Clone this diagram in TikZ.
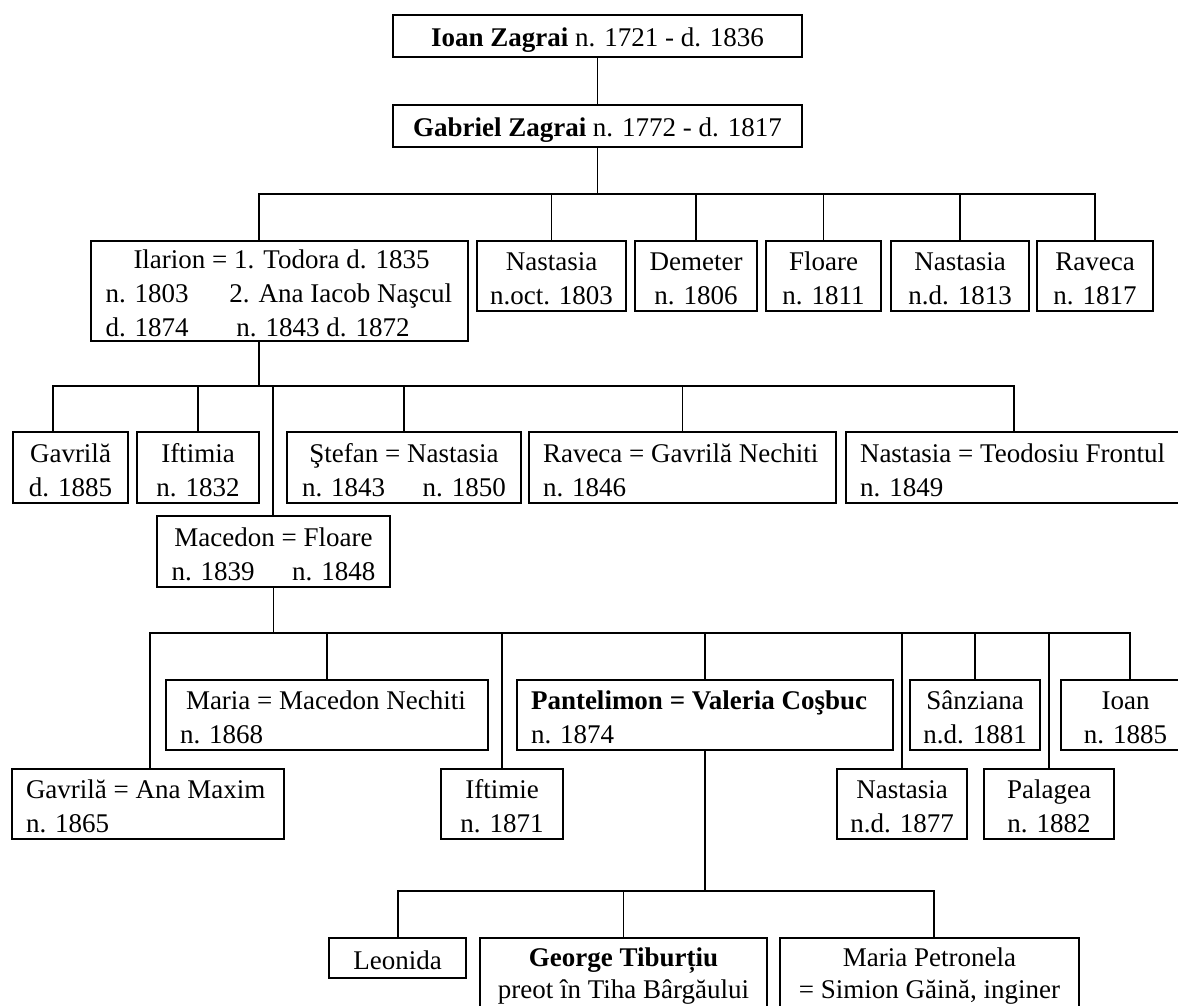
\documentclass[tikz,border=0pt]{standalone}
\usepackage{fontspec}
\setmainfont{Liberation Serif}
\newcommand\topstrut{\rule{0pt}{27pt}}
\newcommand\botstrut{\rule[-4pt]{0pt}{4pt}}
\newcommand\deepstrut{\rule[-12pt]{0pt}{12pt}}
\newcommand\famnode[7][]{\node[box,#1,minimum width={#5-#3},minimum height={#6-#4}] (#2) at ({(#3+#5)/2},{(#4+#6)/2}) {\topstrut#7\botstrut};}
\begin{document}
\begin{tikzpicture}[x=1pt,y=-1pt,
  box/.style={draw,line width=1.5pt,inner sep=0pt,align=center,font=\fontsize{27}{34}\selectfont},
  lbox/.style={align=flush left},
  tight/.style={font=\fontsize{27}{32}\selectfont},
  link/.style={line width=1.5pt}]
\useasboundingbox (0,0) rectangle (1178,1005);

% generation 1-2
\famnode{ioan}{393}{15}{802}{57}{\textbf{Ioan Zagrai} n. 1721 - d. 1836}
\famnode{gabriel}{393}{105}{802}{147}{\textbf{Gabriel Zagrai} n. 1772 - d. 1817}

% children of Gabriel
\famnode[lbox,text width=348]{ilarion}{91}{241}{468}{341}{\mbox{\hspace*{28pt}Ilarion = 1. Todora d. 1835}\\\mbox{\makebox[124pt][l]{n. 1803}2. Ana Iacob Naşcul}\\\mbox{\makebox[131pt][l]{d. 1874}n. 1843 d. 1872}}
\famnode{nast1}{477}{241}{626}{311}{Nastasia\\n.oct. 1803}
\famnode{demeter}{635}{241}{757}{311}{Demeter\\n. 1806}
\famnode{floare}{766}{241}{881}{311}{Floare\\n. 1811}
\famnode{nast2}{891}{241}{1029}{311}{Nastasia\\n.d. 1813}
\famnode{raveca1}{1037}{241}{1153}{311}{Raveca\\n. 1817}

% children of Ilarion
\famnode{gavrila1}{13}{432}{128}{503}{Gavrilă\\d. 1885}
\famnode{iftimia}{137}{432}{259}{503}{Iftimia\\n. 1832}
\famnode{stefan}{287}{432}{521}{503}{Ştefan = Nastasia\\\makebox[204pt]{n. 1843\hfill n. 1850}}
\famnode[lbox,text width=279]{raveca2}{529}{432}{836}{503}{\mbox{Raveca = Gavrilă Nechiti}\\n. 1846}
\famnode[lbox,text width=316]{nastf}{846}{432}{1190}{503}{\mbox{Nastasia = Teodosiu Frontul}\\n. 1849}
\famnode{macedon}{157}{516}{390}{587}{Macedon = Floare\\\makebox[204pt]{n. 1839\hfill n. 1848}}

% children of Macedon
\famnode[lbox,text width=244]{gavrila2}{12}{769}{284}{839}{\mbox{Gavrilă = Ana Maxim}\\n. 1865}
\famnode[lbox,text width=294]{maria}{166}{680}{488}{750}{\mbox{\hspace*{6pt}Maria = Macedon Nechiti}\\n. 1868}
\famnode{iftimie}{441}{769}{563}{839}{Iftimie\\n. 1871}
\famnode[lbox,text width=348]{pantelimon}{517}{680}{893}{750}{\mbox{\textbf{Pantelimon = Valeria Coşbuc}}\\n. 1874}
\famnode{nast3}{837}{769}{967}{839}{Nastasia\\n.d. 1877}
\famnode{sanziana}{910}{680}{1040}{750}{Sânziana\\n.d. 1881}
\famnode{palagea}{984}{769}{1114}{839}{Palagea\\n. 1882}
\famnode{ioan2}{1061}{680}{1190}{750}{Ioan\\n. 1885}

% children of Pantelimon
\famnode{leonida}{329}{938}{466}{978}{Leonida}
\famnode[tight]{george}{480}{938}{767}{1012}{\textbf{George Tiburțiu}\\preot în Tiha Bârgăului\deepstrut}
\famnode[tight]{mariap}{780}{938}{1079}{1012}{Maria Petronela\\= Simion Găină, inginer\deepstrut}

% connectors
\draw[link] (ioan) -- (gabriel);

\coordinate (gL) at (259,194);
\coordinate (gR) at (1095,194);
\draw[link] (gabriel.south) -- (gabriel.south |- gL);
\draw[link] (gL |- ilarion.north) -- (gL) -- (gR) -- (gR |- raveca1.north);
\foreach \n in {nast1,demeter,floare,nast2}
  \draw[link] (\n.north) -- (\n.north |- gL);

\coordinate (i0) at (259,386);
\coordinate (iL) at (53,386);
\coordinate (iR) at (1014,386);
\coordinate (iM) at (273,386);
\draw[link] (i0 |- ilarion.south) -- (i0);
\draw[link] (iL |- gavrila1.north) -- (iL) -- (iR) -- (iR |- nastf.north);
\draw[link] (iM) -- (iM |- macedon.north);
\foreach \n in {iftimia,stefan,raveca2}
  \draw[link] (\n.north) -- (\n.north |- iL);

\coordinate (mL) at (150,633);
\coordinate (mR) at (1130,633);
\draw[link] (macedon.south) -- (macedon.south |- mL);
\draw[link] (mL |- gavrila2.north) -- (mL) -- (mR) -- (mR |- ioan2.north);
\foreach \n in {maria,iftimie,pantelimon,nast3,sanziana,palagea}
  \draw[link] (\n.north) -- (\n.north |- mL);

\coordinate (pL) at (398,891);
\coordinate (pR) at (934,891);
\draw[link] (pantelimon.south) -- (pantelimon.south |- pL);
\draw[link] (pL |- leonida.north) -- (pL) -- (pR) -- (pR |- mariap.north);
\draw[link] (george.north) -- (george.north |- pL);
\end{tikzpicture}
\end{document}
